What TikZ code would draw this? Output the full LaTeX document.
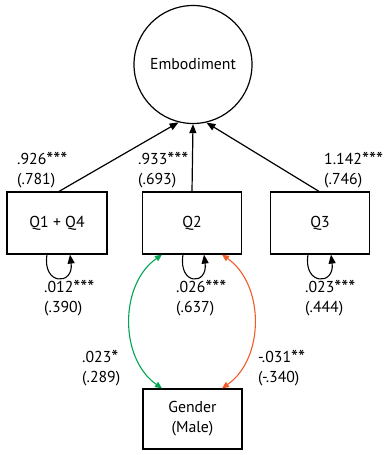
\documentclass[tikz,border=0pt]{standalone}
\usepackage{fontspec}
\setmainfont{PT Sans}
\usetikzlibrary{arrows.meta}
\definecolor{covgreen}{RGB}{0,166,81}
\definecolor{covorange}{RGB}{241,90,41}
\newcommand\mystars[1]{\raisebox{-1.8pt}{\fontsize{20}{20}\selectfont #1}}
\begin{document}
\begin{tikzpicture}[x=1pt,y=-1pt,
  every node/.style={font=\fontsize{15.8}{20}\selectfont},
  var/.style={draw, line width=1.2pt, minimum width=99pt, minimum height=62pt, inner sep=0pt},
  lat/.style={draw, circle, line width=1.2pt, minimum size=118pt, inner sep=0pt},
  path/.style={line width=1.2pt, -{Triangle[length=9pt,width=7pt]}},
  loop/.style={line width=1.1pt, -{Triangle[length=9pt,width=7pt]}},
  cov/.style={line width=1.1pt, {Triangle[length=7pt,width=6pt]}-{Triangle[length=7pt,width=6pt]}},
  lab/.style={anchor=west, align=left, inner sep=0pt}
]
\useasboundingbox (0,0) rectangle (383,455);
\node[lat] (emb) at (193,64.5) {Embodiment};
\node[var, minimum width=100pt] (q14) at (57,223) {Q1 + Q4};
\node[var] (q2) at (192,223) {Q2};
\node[var] (q3) at (320,223) {Q3};
\node[var, minimum height=60pt, align=center] (gen) at (192.5,419) {Gender\\(Male)};

\coordinate (q14top) at ([xshift=2pt]q14.north);
\coordinate (q3top) at ([xshift=-1pt]q3.north);
\draw[path] (q14top) -- (emb.-104);
\draw[path] (q2.north) -- (emb.south);
\draw[path] (q3top) -- (emb.-77);

\coordinate (l1a) at ([xshift=-10pt]q14.south);
\coordinate (l1b) at ([xshift=13pt]q14.south);
\coordinate (l2a) at ([xshift=-9pt]q2.south);
\coordinate (l2b) at ([xshift=12pt]q2.south);
\coordinate (l3a) at ([xshift=-12pt]q3.south);
\coordinate (l3b) at ([xshift=11pt]q3.south);
\draw[loop] (l1a) .. controls +(-5,31) and +(4,31) .. (l1b);
\draw[loop] (l2a) .. controls +(-5,31) and +(4,31) .. (l2b);
\draw[loop] (l3a) .. controls +(-5,31) and +(4,31) .. (l3b);

\coordinate (ga) at ([xshift=-30pt]q2.south);
\coordinate (gb) at ([xshift=-30.5pt]gen.north);
\coordinate (oa) at ([xshift=30pt]q2.south);
\coordinate (ob) at ([xshift=29.5pt]gen.north);
\draw[cov, covgreen] (ga) to[bend right=55] (gb);
\draw[cov, covorange] (oa) to[bend left=55] (ob);

\node[lab] (t1) at (17,170) {.926\mystars{***}\\(.781)};
\node[lab] (t2) at (138,170) {.933\mystars{***}\\(.693)};
\node[lab] (t3) at (324,170) {1.142\mystars{***}\\(.746)};
\node[lab] (t4) at (44,298) {.012\mystars{***}\\(.390)};
\node[lab] (t5) at (176,298) {.026\mystars{***}\\(.637)};
\node[lab] (t6) at (305,298) {.023\mystars{***}\\(.444)};
\node[lab] (t7) at (82,368) {.023\mystars{*}\\(.289)};
\node[lab] (t8) at (258,368) {-.031\mystars{**}\\(-.340)};
\end{tikzpicture}
\end{document}
